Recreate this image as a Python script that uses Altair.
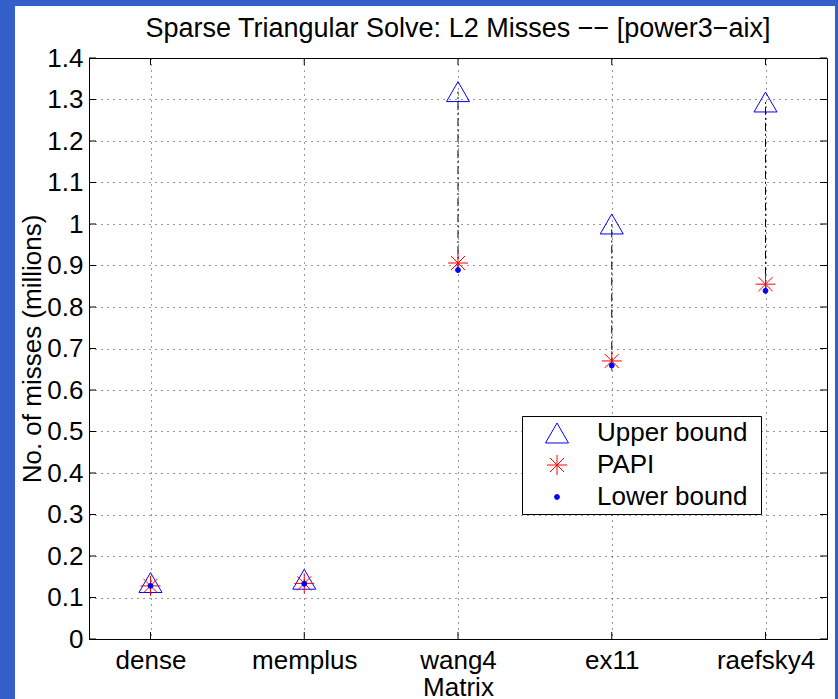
import altair as alt
import pandas as pd

# ---- data ----
matrices = ["dense", "memplus", "wang4", "ex11", "raefsky4"]
upper = [0.136, 0.144, 1.319, 1.000, 1.294]
papi = [0.128, 0.134, 0.906, 0.670, 0.855]
lower = [0.128, 0.133, 0.889, 0.659, 0.839]
series_names = ["Upper bound", "PAPI", "Lower bound"]
y_ticks = [0, 0.1, 0.2, 0.3, 0.4, 0.5, 0.6, 0.7, 0.8, 0.9, 1.0, 1.1, 1.2, 1.3, 1.4]
x_ticks = [1, 2, 3, 4, 5]

W, H = 738, 581
FONT = "Liberation Sans"
BLUE_FRAME = "#345ec8"
STAR = "M-1,0L1,0M0,-1L0,1M-0.7071,-0.7071L0.7071,0.7071M-0.7071,0.7071L0.7071,-0.7071"

idx = list(range(1, len(matrices) + 1))
rows = []
for name, vals in zip(series_names, [upper, papi, lower]):
    for i, m, v in zip(idx, matrices, vals):
        rows.append({"idx": i, "matrix": m, "series": name, "value": v})
long_df = pd.DataFrame(rows)
wide_df = pd.DataFrame({"idx": idx, "lower": lower, "upper": upper})
ytick_df = pd.DataFrame({"t": y_ticks})
xtick_df = pd.DataFrame({"xi": x_ticks})

xscale = alt.Scale(domain=[0.6, 5.4], nice=False, zero=False)
yscale = alt.Scale(domain=[0, 1.4], nice=False, zero=False)

label_expr = "[" + ",".join("'%s'" % m for m in matrices) + "][datum.value - 1]"

x_axis = alt.Axis(values=x_ticks, labelExpr=label_expr, title="Matrix",
                  grid=True, gridDash=[1, 5], gridColor="#000", gridOpacity=0.8,
                  ticks=False, labelPadding=8, labelFontSize=26, labelFont=FONT,
                  labelColor="black", titleFont=FONT, titleFontSize=26,
                  titleFontWeight="normal", titleColor="black", titlePadding=1,
                  domainColor="black")
y_axis = alt.Axis(values=y_ticks, format="~g", title="No. of misses (millions)",
                  grid=True, gridDash=[1, 5], gridColor="#000", gridOpacity=0.8,
                  ticks=False, labelPadding=6, labelFontSize=26, labelFont=FONT,
                  labelColor="black", titleFont=FONT, titleFontSize=26,
                  titleFontWeight="normal", titleColor="black", titlePadding=1,
                  domainColor="black")

leg = alt.Legend(title=None, orient="none", legendX=433, legendY=358,
                 fillColor="white", strokeColor="black", padding=4,
                 labelFont=FONT, labelFontSize=26, labelColor="black",
                 symbolOffset=18, labelOffset=27, rowPadding=6,
                 symbolStrokeWidth=1,
                 labelExpr="datum.label + '\u00a0\u200a\u200b'")

# blue frame strips around the white page
one = pd.DataFrame({"a": [0]})
frame_left = alt.Chart(one).mark_rect(color=BLUE_FRAME).encode(
    x=alt.value(-89), x2=alt.value(-74), y=alt.value(-58), y2=alt.value(H + 60))
frame_top = alt.Chart(one).mark_rect(color=BLUE_FRAME).encode(
    x=alt.value(-89), x2=alt.value(W + 11), y=alt.value(-58), y2=alt.value(-52))
frame_right = alt.Chart(one).mark_rect(color=BLUE_FRAME).encode(
    x=alt.value(W + 8), x2=alt.value(W + 11), y=alt.value(-58), y2=alt.value(H + 60))

X = lambda f: alt.X(f, scale=xscale, axis=x_axis)
Y = lambda f: alt.Y(f, scale=yscale, axis=y_axis)

points = alt.Chart(long_df).mark_point(filled=False, strokeWidth=1, opacity=1).encode(
    x=X("idx:Q"),
    y=Y("value:Q"),
    color=alt.Color("series:N", scale=alt.Scale(domain=series_names,
                    range=["#0000ff", "#ff0000", "#0000ff"]), legend=leg),
    shape=alt.Shape("series:N", scale=alt.Scale(domain=series_names,
                    range=["triangle-up", STAR, "circle"]), legend=leg),
    fill=alt.Fill("series:N", scale=alt.Scale(domain=series_names,
                  range=["transparent", "transparent", "#0000ff"]), legend=leg),
    size=alt.Size("series:N", scale=alt.Scale(type="ordinal", domain=series_names,
                  range=[530, 400, 24]), legend=leg),
)

rules = alt.Chart(wide_df).mark_rule(color="black", strokeWidth=1,
                                     strokeDash=[8, 3, 2, 3]).encode(
    x=X("idx:Q"), y=Y("lower:Q"), y2="upper:Q")

lt = alt.Chart(ytick_df).mark_rule(color="black").encode(
    y=Y("t:Q"), x=alt.value(0), x2=alt.value(7))
rt = alt.Chart(ytick_df).mark_rule(color="black").encode(
    y=Y("t:Q"), x=alt.value(W - 7), x2=alt.value(W))
bt = alt.Chart(xtick_df).mark_rule(color="black").encode(
    x=X("xi:Q"), y=alt.value(H - 7), y2=alt.value(H))
tt = alt.Chart(xtick_df).mark_rule(color="black").encode(
    x=X("xi:Q"), y=alt.value(0), y2=alt.value(7))

chart = alt.layer(frame_left, frame_top, frame_right, rules, lt, rt, bt, tt, points).properties(
    width=W, height=H,
    autosize=alt.AutoSizeParams(type="none"),
    padding={"left": 89, "top": 58, "right": 11, "bottom": 60},
    background="white",
    title=alt.Title("Sparse Triangular Solve: L2 Misses \u2212\u2212 [power3\u2212aix]",
                    font=FONT, fontSize=27, fontWeight="normal", color="black",
                    anchor="middle", frame="group", baseline="alphabetic",
                    offset=-37, dy=27),
).configure_view(stroke="black", strokeWidth=1)

chart.save("out.html", embed_options={"renderer": "svg", "actions": False})
